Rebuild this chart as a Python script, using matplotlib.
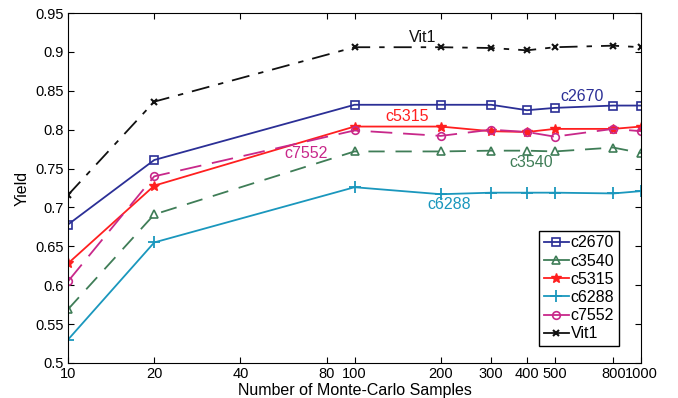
import numpy as np
import matplotlib
matplotlib.use("Agg")
import matplotlib.pyplot as plt
from matplotlib.ticker import FixedLocator, NullLocator

plt.rcParams['font.family'] = ['Liberation Sans', 'DejaVu Sans']

# sample counts (log-scaled x axis)
samples = [10, 20, 100, 200, 300, 400, 500, 800, 1000]
xticks = [10, 20, 40, 80, 100, 200, 300, 400, 500, 800, 1000]

c2670 = [0.678, 0.761, 0.832, 0.832, 0.832, 0.825, 0.828, 0.831, 0.831]
c3540 = [0.569, 0.691, 0.772, 0.772, 0.773, 0.773, 0.772, 0.777, 0.770]
c5315 = [0.628, 0.728, 0.804, 0.804, 0.798, 0.797, 0.801, 0.801, 0.804]
c6288 = [0.530, 0.655, 0.726, 0.717, 0.719, 0.719, 0.719, 0.718, 0.721]
c7552 = [0.605, 0.740, 0.799, 0.792, 0.800, 0.797, 0.791, 0.801, 0.798]
vit1 = [0.716, 0.836, 0.906, 0.906, 0.905, 0.902, 0.906, 0.908, 0.906]

fig = plt.figure(figsize=(6.78, 3.98), dpi=100)
ax = fig.add_axes([68/678, 1 - 363/398, 573/678, 350/398])

ax.plot(samples, c2670, color='#2b2f96', marker='s', ms=5.5, mfc='none', mew=1.2,
        lw=1.3, label='c2670')
ax.plot(samples, c3540, color='#3f7d57', marker='^', ms=5.5, mfc='none', mew=1.2,
        lw=1.3, ls=(0, (9, 6)), label='c3540')
ax.plot(samples, c5315, color='#ff1f1f', marker='*', ms=7, mew=1.0,
        lw=1.3, label='c5315')
ax.plot(samples, c6288, color='#1a97bd', marker='+', ms=8, mew=1.3,
        lw=1.3, label='c6288')
ax.plot(samples, c7552, color='#c8288a', marker='o', ms=5.5, mfc='none', mew=1.2,
        lw=1.3, ls=(0, (12, 6)), label='c7552')
ax.plot(samples, vit1, color='#111111', marker='x', ms=5, mew=1.5,
        lw=1.3, ls=(0, (10, 5, 3, 5)), label='Vit1')

ax.set_xscale('log')
ax.set_xlim(10, 1000)
ax.set_ylim(0.5, 0.95)
ax.xaxis.set_major_locator(FixedLocator(xticks))
ax.xaxis.set_minor_locator(NullLocator())
ax.set_xticklabels([str(t) for t in xticks])
ax.set_yticks(np.arange(0.5, 0.951, 0.05))
ax.set_yticklabels(['0.5', '0.55', '0.6', '0.65', '0.7', '0.75', '0.8',
                    '0.85', '0.9', '0.95'])
ax.tick_params(direction='in', top=True, right=True, labelsize=10.5,
               length=4, pad=3)

ax.set_xlabel('Number of Monte-Carlo Samples', fontsize=11.5, labelpad=1)
ax.set_ylabel('Yield', fontsize=11.5, labelpad=4)

# in-plot curve labels
lab = dict(fontsize=11.5, ha='center', va='center')
ax.text(173, 0.919, 'Vit1', color='#111111', **lab)
ax.text(624, 0.843, 'c2670', color='#2b2f96', **lab)
ax.text(153, 0.817, 'c5315', color='#ff1f1f', **lab)
ax.text(67.5, 0.770, 'c7552', color='#c8288a', **lab)
ax.text(414, 0.758, 'c3540', color='#3f7d57', **lab)
ax.text(214, 0.704, 'c6288', color='#1a97bd', **lab)

leg = ax.legend(loc='lower right', bbox_to_anchor=(0.962, 0.048),
                fontsize=11.5, handlelength=1.6, handletextpad=0.1,
                labelspacing=0.2, borderpad=0.3, borderaxespad=0,
                fancybox=False, framealpha=1, edgecolor='black')
leg.get_frame().set_linewidth(1.0)
for h in leg.get_lines():
    h.set_linestyle('-')

fig.savefig('out.png', dpi=100)
